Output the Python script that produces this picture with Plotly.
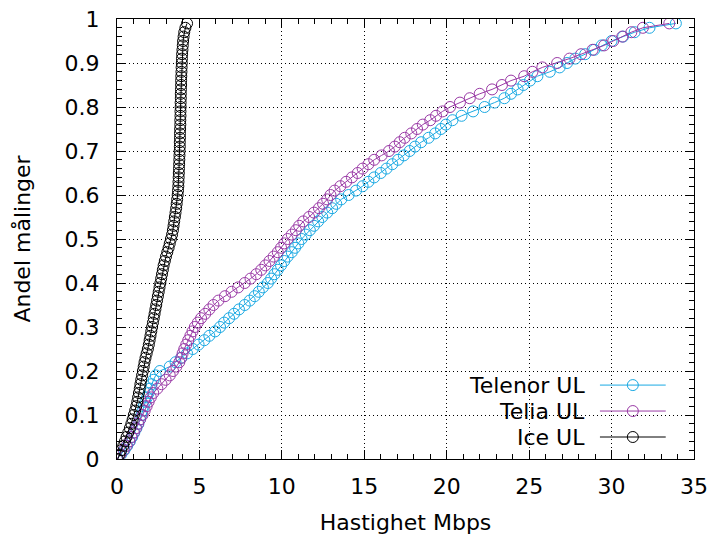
import plotly.graph_objects as go

# Cumulative share (y) and speed percentiles (x, Mbps)
share = [0.00, 0.01, 0.02, 0.03, 0.04, 0.05, 0.06, 0.07, 0.08, 0.09,
         0.10, 0.11, 0.12, 0.13, 0.14, 0.15, 0.16, 0.17, 0.18, 0.19,
         0.20, 0.21, 0.22, 0.23, 0.24, 0.25, 0.26, 0.27, 0.28, 0.29,
         0.30, 0.31, 0.32, 0.33, 0.34, 0.35, 0.36, 0.37, 0.38, 0.39,
         0.40, 0.41, 0.42, 0.43, 0.44, 0.45, 0.46, 0.47, 0.48, 0.49,
         0.50, 0.51, 0.52, 0.53, 0.54, 0.55, 0.56, 0.57, 0.58, 0.59,
         0.60, 0.61, 0.62, 0.63, 0.64, 0.65, 0.66, 0.67, 0.68, 0.69,
         0.70, 0.71, 0.72, 0.73, 0.74, 0.75, 0.76, 0.77, 0.78, 0.79,
         0.80, 0.81, 0.82, 0.83, 0.84, 0.85, 0.86, 0.87, 0.88, 0.89,
         0.90, 0.91, 0.92, 0.93, 0.94, 0.95, 0.96, 0.97, 0.98, 0.99]

telenor_ul = [0.00, 0.25, 0.45, 0.62, 0.78, 0.92, 1.05, 1.18, 1.30, 1.40,
              1.48, 1.55, 1.62, 1.72, 1.82, 1.92, 2.00, 2.10, 2.22, 2.35,
              2.60, 3.20, 3.55, 3.90, 4.25, 4.60, 4.95, 5.30, 5.60, 5.95,
              6.25, 6.50, 6.80, 7.10, 7.40, 7.75, 8.05, 8.35, 8.60, 8.85,
              9.15, 9.35, 9.55, 9.75, 9.95, 10.15, 10.35, 10.60, 10.80, 11.00,
              11.20, 11.45, 11.70, 11.95, 12.20, 12.45, 12.75, 13.05, 13.30, 13.60,
              14.05, 14.50, 14.90, 15.25, 15.60, 16.00, 16.35, 16.70, 17.05, 17.40,
              17.75, 18.08, 18.45, 18.90, 19.30, 19.65, 19.95, 20.35, 20.90, 21.60,
              22.30, 22.90, 23.50, 23.90, 24.30, 24.65, 25.05, 25.50, 26.25, 26.85,
              27.30, 27.80, 28.40, 28.95, 29.40, 30.00, 30.70, 31.40, 32.30, 33.90]

telia_ul = [0.00, 0.20, 0.40, 0.58, 0.75, 0.88, 1.02, 1.15, 1.28, 1.40,
            1.55, 1.68, 1.80, 1.92, 2.05, 2.20, 2.45, 2.70, 2.95, 3.20,
            3.40, 3.60, 3.78, 3.90, 3.98, 4.08, 4.20, 4.32, 4.45, 4.58,
            4.72, 4.90, 5.10, 5.35, 5.60, 5.85, 6.15, 6.55, 6.95, 7.35,
            7.75, 8.10, 8.45, 8.75, 9.00, 9.25, 9.50, 9.75, 9.95, 10.15,
            10.35, 10.60, 10.85, 11.05, 11.30, 11.65, 11.95, 12.25, 12.50, 12.75,
            12.95, 13.20, 13.55, 13.90, 14.25, 14.60, 14.90, 15.25, 15.60, 16.05,
            16.50, 16.85, 17.15, 17.45, 17.85, 18.20, 18.55, 19.00, 19.35, 19.75,
            20.20, 20.80, 21.40, 22.00, 22.75, 23.35, 23.90, 24.70, 25.20, 25.80,
            26.70, 27.45, 28.15, 28.85, 29.55, 30.10, 30.65, 31.20, 31.90, 33.50]

ice_ul = [0.05, 0.15, 0.25, 0.38, 0.48, 0.58, 0.68, 0.78, 0.87, 0.95,
          1.02, 1.10, 1.17, 1.23, 1.28, 1.33, 1.38, 1.42, 1.47, 1.52,
          1.57, 1.62, 1.67, 1.73, 1.80, 1.87, 1.93, 1.98, 2.03, 2.08,
          2.13, 2.18, 2.23, 2.28, 2.33, 2.38, 2.43, 2.48, 2.53, 2.58,
          2.63, 2.68, 2.73, 2.78, 2.83, 2.90, 2.97, 3.05, 3.13, 3.20,
          3.27, 3.34, 3.39, 3.43, 3.47, 3.51, 3.55, 3.59, 3.62, 3.65,
          3.68, 3.70, 3.72, 3.73, 3.74, 3.75, 3.76, 3.77, 3.78, 3.79,
          3.80, 3.81, 3.81, 3.82, 3.82, 3.83, 3.84, 3.84, 3.85, 3.85,
          3.86, 3.86, 3.87, 3.87, 3.88, 3.89, 3.89, 3.90, 3.91, 3.92,
          3.93, 3.94, 3.95, 3.97, 3.99, 4.01, 4.04, 4.08, 4.15, 4.25]

series_names = ["Telenor UL", "Telia UL", "Ice UL"]
series_x = [telenor_ul, telia_ul, ice_ul]
series_colors = ["#1AA9E3", "#9A3AA6", "#000000"]

x_ticks = [0, 5, 10, 15, 20, 25, 30, 35]
y_ticks = [0, 0.1, 0.2, 0.3, 0.4, 0.5, 0.6, 0.7, 0.8, 0.9, 1]
y_tick_text = ["0", "0.1", "0.2", "0.3", "0.4", "0.5", "0.6", "0.7", "0.8", "0.9", "1"]

FONT = "DejaVu Sans"
FS = 22
fig = go.Figure()
for name, xs, col in zip(series_names, series_x, series_colors):
    fig.add_trace(go.Scatter(
        x=xs, y=share, name=name, mode="lines+markers",
        line=dict(color=col, width=1),
        marker=dict(symbol="circle-open", size=11, color=col, line=dict(width=1, color=col)),
        showlegend=False,
    ))

# custom gnuplot-like key (text left, sample right)
key_rows = [0.168, 0.109, 0.050]
for name, col, yk in zip(series_names, series_colors, key_rows):
    fig.add_annotation(x=0.814, y=yk, xref="paper", yref="paper", text=name,
                       showarrow=False, xanchor="right", yanchor="middle",
                       font=dict(family=FONT, size=FS, color="black"))
    fig.add_shape(type="line", xref="paper", yref="paper", x0=0.837, x1=0.951,
                  y0=yk, y1=yk, line=dict(color=col, width=1))
    fig.add_shape(type="circle", xref="paper", yref="paper",
                  xsizemode="pixel", ysizemode="pixel",
                  xanchor=0.894, yanchor=yk, x0=-5.5, x1=5.5, y0=-5.5, y1=5.5,
                  line=dict(color=col, width=1))

grid_dash = "1px,3px"
fig.update_xaxes(
    range=[0, 35], tickvals=x_ticks, ticktext=[str(v) for v in x_ticks],
    ticks="inside", ticklen=9, tickwidth=1, tickcolor="black",
    showline=True, linecolor="black", linewidth=1, mirror="allticks",
    showgrid=True, gridcolor="black", gridwidth=1, griddash=grid_dash,
    zeroline=False, ticklabelstandoff=8, automargin=False,
    minor=dict(ticks="inside", dtick=1, ticklen=5, tickcolor="black", showgrid=False),
    tickfont=dict(family=FONT, size=FS, color="black"),
    title=dict(text="Hastighet Mbps", font=dict(family=FONT, size=FS, color="black"), standoff=16),
)
fig.update_yaxes(
    range=[0, 1], tickvals=y_ticks, ticktext=y_tick_text,
    ticks="inside", ticklen=9, tickwidth=1, tickcolor="black",
    showline=True, linecolor="black", linewidth=1, mirror="allticks",
    showgrid=True, gridcolor="black", gridwidth=1, griddash=grid_dash,
    zeroline=False, ticklabelstandoff=12, automargin=False,
    minor=dict(ticks="inside", dtick=0.02, ticklen=5, tickcolor="black", showgrid=False),
    tickfont=dict(family=FONT, size=FS, color="black"),
    title=dict(text="Andel målinger", font=dict(family=FONT, size=FS, color="black"), standoff=27),
)
fig.update_layout(
    width=715, height=539,
    margin=dict(l=117, r=21, t=19, b=80, pad=0),
    paper_bgcolor="white", plot_bgcolor="white",
    font=dict(family=FONT, size=FS, color="black"),
)
fig.write_html("out.html")
